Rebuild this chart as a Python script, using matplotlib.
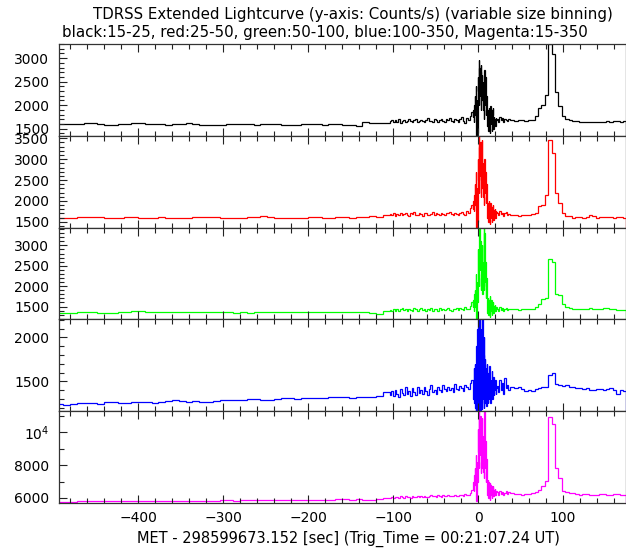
import numpy as np
import matplotlib
matplotlib.use("Agg")
import matplotlib.pyplot as plt
from matplotlib.ticker import MultipleLocator, FuncFormatter

# variable size binning: segment limits [sec] and bin width in each segment
seg_bounds = [-496, -104, -6, 22, 38.5, 174.5]
seg_widths = [8, 2, 0.5, 1.5, 4]

# count rates per bin (counts/s), one list per energy band
black_rate = [
    # -496 .. -104 (8 s bins)
    1600, 1605, 1598, 1610, 1615, 1625, 1605, 1590, 1585, 1595,
    1600, 1612, 1620, 1605, 1600, 1595, 1588, 1600, 1605, 1612,
    1600, 1590, 1585, 1578, 1590, 1598, 1605, 1600, 1595, 1590,
    1600, 1607, 1598, 1590, 1582, 1590, 1600, 1603, 1595, 1590,
    1600, 1598, 1590, 1570, 1565, 1640, 1630, 1625, 1620,
    # -104 .. -6 (2 s bins)
    1660, 1690, 1640, 1680, 1650, 1700, 1630, 1670, 1690, 1645,
    1665, 1700, 1660, 1640, 1685, 1710, 1650, 1670, 1695, 1655,
    1640, 1690, 1720, 1660, 1675, 1650, 1700, 1680, 1640, 1690,
    1710, 1665, 1650, 1700, 1690, 1720, 1660, 1640, 1705, 1680,
    1650, 1700, 1740, 1670, 1630, 1720, 1690, 1780, 1850,
    # -6 .. 22 (0.5 s bins)
    1750, 1900, 1650, 2000, 2200, 1800, 2400, 1500, 1300, 2100,
    1400, 2600, 2300, 2950, 2000, 2800, 2200, 2700, 1900, 2850,
    2400, 2650, 2100, 2500, 1900, 2300, 1700, 2750, 2000, 2600,
    1800, 2200, 1700, 2000, 1550, 1900, 1450, 1950, 1500, 1850,
    1400, 1980, 1600, 1900, 1450, 1800, 1550, 1950, 1500, 1750,
    1580, 1700, 1550, 1720, 1600, 1680,
    # 22 .. 38.5 (1.5 s bins)
    1700, 1640, 1740, 1680, 1720, 1650, 1700, 1690, 1660, 1710, 1680,
    # 38.5 .. 174.5 (4 s bins)
    1680, 1670, 1690, 1680, 1670, 1690, 1690, 1780, 1950, 2000,
    2210, 3300, 3080, 2270, 1990, 1780, 1710, 1690, 1670, 1660,
    1650, 1640, 1650, 1640, 1635, 1650, 1645, 1640, 1660, 1650,
    1655, 1665, 1650, 1660,
]

red_rate = [
    1590, 1595, 1600, 1610, 1605, 1615, 1620, 1600, 1595, 1600,
    1605, 1612, 1600, 1598, 1600, 1610, 1595, 1585, 1590, 1600,
    1620, 1615, 1610, 1605, 1600, 1595, 1590, 1600, 1610, 1625,
    1630, 1615, 1600, 1590, 1585, 1595, 1600, 1605, 1610, 1600,
    1598, 1605, 1610, 1600, 1620, 1625, 1630, 1615, 1660,
    1680, 1650, 1700, 1640, 1690, 1660, 1710, 1650, 1680, 1720,
    1670, 1640, 1700, 1690, 1730, 1660, 1650, 1710, 1680, 1640,
    1700, 1720, 1670, 1650, 1690, 1740, 1660, 1700, 1680, 1650,
    1720, 1690, 1660, 1710, 1700, 1740, 1680, 1650, 1720, 1690,
    1660, 1700, 1730, 1680, 1650, 1760, 1700, 1820, 1900,
    1800, 2000, 1750, 2150, 2400, 1900, 2700, 1600, 1300, 2300,
    1500, 3000, 2500, 3550, 2200, 3300, 2600, 3400, 2100, 3200,
    2800, 3450, 2300, 2900, 2100, 2700, 1900, 3000, 2200, 2700,
    1950, 2400, 1700, 2100, 1600, 1950, 1500, 2000, 1550, 1900,
    1450, 1950, 1600, 1850, 1500, 1800, 1550, 1900, 1550, 1780,
    1600, 1800, 1580, 1760, 1620, 1740,
    1700, 1650, 1760, 1680, 1720, 1640, 1700, 1740, 1660, 1690, 1650,
    1660, 1650, 1640, 1650, 1660, 1650, 1680, 1720, 1880, 1890,
    2150, 3450, 3150, 2200, 1960, 1720, 1630, 1640, 1600, 1610,
    1620, 1600, 1615, 1650, 1640, 1600, 1605, 1615, 1610, 1620,
    1600, 1610, 1605, 1600,
]

green_rate = [
    1345, 1350, 1345, 1355, 1360, 1355, 1350, 1345, 1340, 1355,
    1365, 1380, 1385, 1375, 1370, 1360, 1365, 1375, 1370, 1360,
    1365, 1355, 1360, 1375, 1370, 1365, 1350, 1355, 1345, 1360,
    1365, 1355, 1360, 1365, 1355, 1360, 1365, 1360, 1365, 1370,
    1375, 1365, 1360, 1365, 1375, 1370, 1335, 1325, 1395,
    1420, 1390, 1450, 1400, 1440, 1380, 1430, 1470, 1410, 1440,
    1400, 1450, 1420, 1390, 1460, 1430, 1400, 1440, 1470, 1410,
    1430, 1390, 1450, 1420, 1460, 1400, 1440, 1430, 1390, 1470,
    1420, 1450, 1410, 1440, 1460, 1420, 1400, 1450, 1430, 1470,
    1410, 1460, 1440, 1420, 1480, 1450, 1430, 1520, 1600,
    1500, 1650, 1400, 1800, 1900, 1500, 2300, 1300, 1150, 2100,
    1600, 2900, 2300, 3300, 2000, 3500, 2400, 3100, 1900, 2800,
    2200, 3000, 1800, 2600, 2000, 3500, 1900, 3300, 2100, 2600,
    1700, 2200, 1500, 1850, 1350, 1700, 1300, 1650, 1350, 1750,
    1250, 1600, 1400, 1650, 1300, 1550, 1350, 1600, 1350, 1520,
    1400, 1550, 1380, 1500, 1420, 1490,
    1450, 1400, 1480, 1420, 1460, 1390, 1440, 1470, 1410, 1450, 1430,
    1440, 1430, 1420, 1430, 1440, 1430, 1450, 1500, 1560, 1690,
    1700, 2660, 2590, 1815, 1790, 1570, 1500, 1460, 1450, 1440,
    1450, 1440, 1450, 1460, 1445, 1440, 1450, 1470, 1460, 1440,
    1430, 1425, 1420, 1415,
]

blue_rate = [
    1240, 1235, 1238, 1250, 1255, 1250, 1245, 1260, 1262, 1255,
    1250, 1265, 1270, 1262, 1258, 1265, 1275, 1285, 1280, 1270,
    1275, 1268, 1270, 1280, 1285, 1290, 1282, 1285, 1295, 1300,
    1292, 1288, 1300, 1310, 1305, 1300, 1310, 1315, 1312, 1305,
    1318, 1325, 1320, 1315, 1322, 1318, 1320, 1330, 1380,
    1350, 1390, 1330, 1400, 1360, 1320, 1410, 1370, 1340, 1430,
    1360, 1390, 1330, 1420, 1380, 1350, 1440, 1370, 1400, 1360,
    1430, 1390, 1350, 1410, 1460, 1380, 1400, 1360, 1440, 1400,
    1380, 1460, 1410, 1390, 1440, 1400, 1420, 1380, 1470, 1410,
    1400, 1450, 1420, 1390, 1460, 1430, 1410, 1480, 1520,
    1500, 1300, 1650, 1250, 1700, 1200, 1850, 1150, 1900, 1100,
    2100, 1200, 2300, 1150, 2250, 1300, 2400, 1120, 2100, 1250,
    1950, 1180, 2300, 1300, 1800, 1200, 2000, 1250, 1750, 1300,
    1650, 1220, 1700, 1280, 1600, 1250, 1550, 1300, 1680, 1330,
    1600, 1250, 1520, 1350, 1620, 1300, 1500, 1380, 1550, 1350,
    1480, 1400, 1520, 1360, 1500, 1420,
    1450, 1380, 1520, 1400, 1480, 1360, 1540, 1420, 1460, 1400, 1440,
    1430, 1420, 1440, 1410, 1390, 1400, 1395, 1410, 1420, 1440,
    1430, 1570, 1600, 1470, 1460, 1450, 1455, 1440, 1430, 1420,
    1425, 1410, 1420, 1405, 1400, 1415, 1410, 1400, 1410, 1420,
    1400, 1360, 1400, 1395,
]

magenta_rate = [
    5770, 5775, 5780, 5790, 5800, 5795, 5790, 5805, 5810, 5800,
    5800, 5815, 5820, 5810, 5805, 5815, 5830, 5840, 5835, 5820,
    5830, 5820, 5825, 5840, 5850, 5855, 5840, 5845, 5860, 5870,
    5860, 5855, 5870, 5880, 5875, 5870, 5885, 5900, 5890, 5880,
    5900, 5910, 5905, 5895, 5905, 5900, 5895, 5920, 6000,
    6020, 6060, 5990, 6080, 6030, 6000, 6090, 6040, 6010, 6110,
    6050, 6080, 6020, 6120, 6060, 6030, 6130, 6070, 6100, 6050,
    6140, 6080, 6040, 6110, 6170, 6090, 6110, 6060, 6150, 6110,
    6080, 6180, 6120, 6090, 6160, 6120, 6140, 6100, 6200, 6130,
    6110, 6190, 6150, 6120, 6210, 6170, 6150, 6300, 6500,
    6600, 7000, 6400, 7400, 7800, 6800, 8600, 6200, 5800, 8200,
    7000, 10200, 8800, 11500, 7800, 10800, 8600, 11000, 7500, 10300,
    8200, 10900, 7800, 9800, 7600, 10500, 7200, 11500, 7800, 9500,
    7000, 8400, 6500, 7400, 6200, 7100, 6000, 7000, 6100, 6900,
    5900, 6800, 6200, 6700, 6000, 6600, 6100, 6700, 6100, 6500,
    6200, 6550, 6150, 6450, 6250, 6400,
    6350, 6200, 6420, 6250, 6380, 6150, 6300, 6400, 6220, 6350, 6280,
    6300, 6250, 6220, 6200, 6250, 6230, 6300, 6350, 6500, 6750,
    7040, 10920, 10500, 7850, 7200, 6450, 6350, 6300, 6280, 6250,
    6200, 6220, 6250, 6200, 6180, 6200, 6220, 6230, 6200, 6180,
    6220, 6250, 6200, 6190,
]

rates = [black_rate, red_rate, green_rate, blue_rate, magenta_rate]
colors = ["#000000", "#ff0000", "#00ff00", "#0000ff", "#ff00ff"]
ylims = [(1350, 3300), (1360, 3560), (1185, 3435), (1160, 2205), (5690, 11290)]
ymajor = [500, 500, 500, 500, 2000]
yminor = [100, 100, 100, 100, 1000]

# build bin edges
edges = []
for a, b, w in zip(seg_bounds[:-1], seg_bounds[1:], seg_widths):
    n = int(round((b - a) / w))
    edges.extend(np.linspace(a, b, n + 1)[:-1])
edges.append(seg_bounds[-1])
edges = np.array(edges)

plt.rcParams["font.family"] = "DejaVu Sans"
fs = 10
fs_title = 10.8

fig = plt.figure(figsize=(6.26, 5.48), dpi=100)
gs = fig.add_gridspec(5, 1, left=59 / 626, right=1.0, bottom=45 / 548,
                      top=504 / 548, hspace=0)

def ylab(v, pos):
    if v == 10000:
        return r"$10^4$"
    return "%d" % v

axes = []
for i in range(5):
    ax = fig.add_subplot(gs[i, 0])
    ax.stairs(rates[i], edges, color=colors[i], lw=0.9)
    ax.set_xlim(-493, 174)
    ax.set_ylim(*ylims[i])
    ax.xaxis.set_major_locator(MultipleLocator(100))
    ax.xaxis.set_minor_locator(MultipleLocator(20))
    ax.yaxis.set_major_locator(MultipleLocator(ymajor[i]))
    ax.yaxis.set_minor_locator(MultipleLocator(yminor[i]))
    ax.yaxis.set_major_formatter(FuncFormatter(ylab))
    ax.tick_params(axis="x", which="both", direction="in", top=True,
                   bottom=True, color="#222222", labelsize=fs, pad=6)
    ax.tick_params(axis="y", which="both", direction="in", left=True,
                   right=False, color="#222222", labelsize=fs, pad=7)
    ax.tick_params(which="major", length=6, width=0.8)
    ax.tick_params(which="minor", length=3.5, width=0.8)
    for s in ax.spines.values():
        s.set_color("#333333")
        s.set_linewidth(0.9)
    if i < 4:
        ax.tick_params(axis="x", labelbottom=False)
    axes.append(ax)

axes[-1].set_xlabel("MET - 298599673.152 [sec] (Trig_Time = 00:21:07.24 UT)",
                    fontsize=10.5, labelpad=2)
axes[-1].xaxis.set_label_coords(0.51, -0.3)

fig.text(0.564, 0.973,
         "TDRSS Extended Lightcurve (y-axis: Counts/s) (variable size binning)",
         ha="center", va="center", fontsize=fs_title)
fig.text(0.519, 0.94,
         "black:15-25, red:25-50, green:50-100, blue:100-350, Magenta:15-350",
         ha="center", va="center", fontsize=fs_title)

fig.savefig("out.png", dpi=100)
